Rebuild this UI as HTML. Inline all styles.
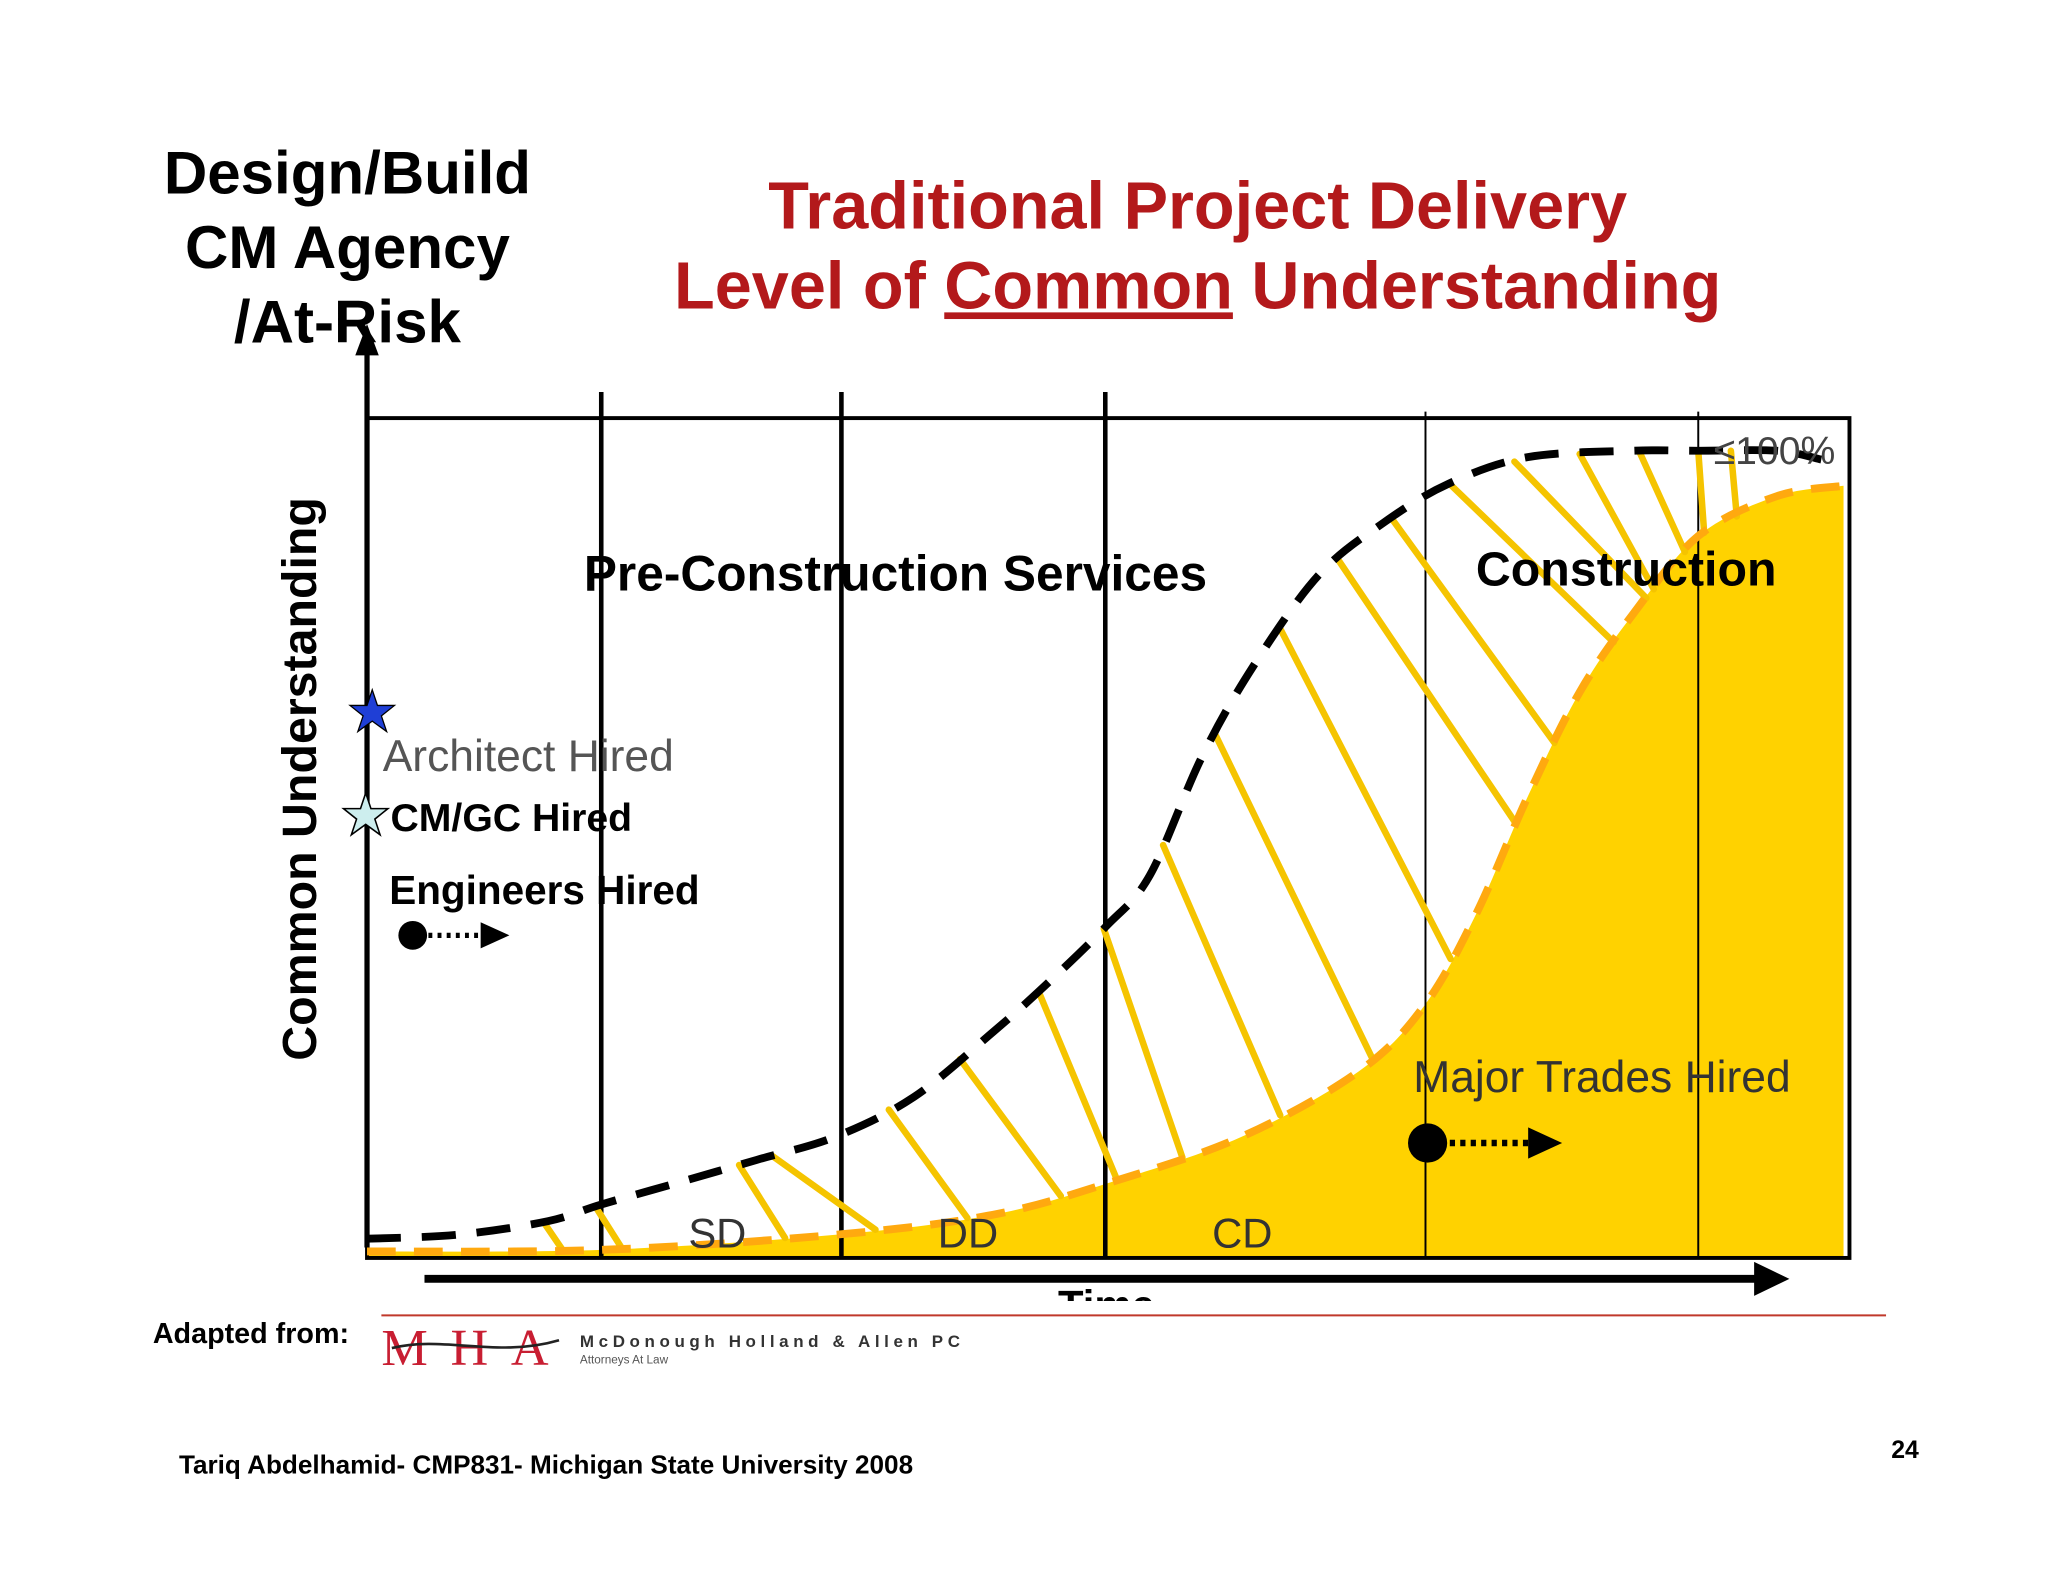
<!DOCTYPE html>
<html><head><meta charset="utf-8"><style>
html,body{margin:0;padding:0;background:#fff;}
svg{display:block;font-family:"Liberation Sans",sans-serif;}
</style></head><body>
<svg id="chart" width="2048" height="1582" viewBox="0 0 1568 1211" xmlns="http://www.w3.org/2000/svg">
<g font-weight="bold" font-size="46" text-anchor="middle" fill="#000">
<text x="266" y="148">Design/Build</text>
<text x="266" y="205">CM Agency</text>
<text x="266" y="262">/At-Risk</text>
</g>
<g font-weight="bold" font-size="51" text-anchor="middle" fill="#b3191b">
<text x="917" y="175">Traditional Project Delivery</text>
<text x="917" y="236">Level of <tspan text-decoration="underline">Common</tspan> Understanding</text>
</g>
<g id="plot"></g>
<text transform="translate(242,812) rotate(-90)" font-size="37" font-weight="bold" fill="#000">Common Understanding</text>
<g font-size="36" fill="#000">
<text x="447" y="452" font-weight="bold" font-size="38">Pre-Construction Services</text>
<text x="1130" y="448" font-weight="bold" font-size="37">Construction</text>
<text x="1312" y="355" font-size="30" fill="#444">≤100%</text>
<text x="527" y="955" font-size="32" fill="#333">SD</text>
<text x="718" y="955" font-size="32" fill="#333">DD</text>
<text x="928" y="955" font-size="32" fill="#333">CD</text>
<text x="1082" y="836" font-size="34" fill="#333">Major Trades Hired</text>
</g>
<g font-size="34">
<text x="293" y="590" fill="#555">Architect Hired</text>
<text x="299" y="636" font-weight="bold" font-size="30">CM/GC Hired</text>
<text x="298" y="692" font-weight="bold" font-size="31">Engineers Hired</text>
</g>
<polygon points="285,528 289,540 302,540 292,548 296,560 285,552 274,560 278,548 268,540 281,540" fill="#1f3fd6" stroke="#000" stroke-width="1"/>
<polygon points="280,607 284,619 297,619 287,627 291,639 280,631 269,639 273,627 263,619 276,619" fill="#cdeeee" stroke="#000" stroke-width="1.2"/>
<g>
<circle cx="316" cy="716" r="11" fill="#000"/>
<line x1="328" y1="716" x2="368" y2="716" stroke="#000" stroke-width="4" stroke-dasharray="3 4"/>
<polygon points="368,706 390,716 368,726" fill="#000"/>
</g>
<g>
<circle cx="1093" cy="875" r="15" fill="#000"/>
<line x1="1110" y1="875" x2="1170" y2="875" stroke="#000" stroke-width="5" stroke-dasharray="4 4"/>
<polygon points="1170,863 1196,875 1170,887" fill="#000"/>
</g>
<line x1="325" y1="979" x2="1345" y2="979" stroke="#000" stroke-width="6"/>
<polygon points="1343,966 1370,979 1343,992" fill="#000"/>
<clipPath id="tc"><rect x="700" y="984" width="300" height="12"/></clipPath>
<text x="810" y="1010" font-size="32" font-weight="bold" clip-path="url(#tc)">Time</text>
<line x1="292" y1="1007" x2="1444" y2="1007" stroke="#c0392b" stroke-width="1.5"/>
<text x="117" y="1028" font-size="22" font-weight="bold">Adapted from:</text>
<text x="292" y="1045" font-family="Liberation Serif" font-size="40" fill="#c81e32" textLength="128">MHA</text>
<path d="M300,1032 C340,1022 380,1040 428,1026" stroke="#222" stroke-width="2" fill="none"/>
<text x="444" y="1031" font-size="13" font-weight="bold" fill="#333" textLength="291">McDonough Holland &amp; Allen PC</text>
<text x="444" y="1044" font-size="9" fill="#555">Attorneys At Law</text>
<text x="137" y="1128" font-size="20" font-weight="bold">Tariq Abdelhamid- CMP831- Michigan State University 2008</text>
<text x="1448" y="1116" font-size="19" font-weight="bold">24</text>
</svg>
<script>
const blackX=[0,6.1,12.2,15.8,21.1,26.3,31.6,36.9,42.2,45.7,49.8,52.8,56.3,59.8,64.2,68.6,73.0,78.3,85.4,89.8,95.1,98.1];
const blackY=[1.1,1.6,3.3,5.4,8.2,11.0,13.9,18.9,27.0,32.8,40.2,46.7,61.5,73.0,84.4,91.0,95.9,99.2,100,100,100,98.9];
const orangeX=[0,15.8,31.6,42.2,50.2,59.0,66.9,71.3,74.8,78.3,81.8,85.4,89.8,95.1,99.6];
const orangeY=[-0.5,-0.3,1.6,4.1,8.2,13.9,22.1,30.3,41.8,56.6,69.7,79.5,89.3,94.3,95.6];
const hatchStart=[11.9,15.4,25.1,27.3,35.2,40.0,45.3,49.7,53.7,57.2,61.6,65.5,69.1,73.0,77.4,81.8,85.8,89.8,92.0];
const hatchEnd=[13.2,17.2,28.2,34.3,40.5,46.8,50.6,55.0,61.6,67.8,73.1,77.5,80.1,84.1,86.3,86.8,88.9,90.2,92.4];
const phaseLines=[15.8,32.0,49.8,71.4,89.8];
const X0=281,X1=1416,Y0=955,Y1=345;
const sx=v=>X0+(X1-X0)*v/100, sy=v=>Y0-(Y0-Y1)*v/100;
const NS='http://www.w3.org/2000/svg';
const plot=document.getElementById('plot');
function mk(t,a){const e=document.createElementNS(NS,t);for(const k in a)e.setAttribute(k,a[k]);plot.appendChild(e);return e;}
function smooth(xs,ys){const p=xs.map((x,i)=>[sx(x),sy(ys[i])]);let d='M'+p[0][0]+','+p[0][1];
for(let i=0;i<p.length-1;i++){const a=p[Math.max(0,i-1)],b=p[i],c=p[i+1],e=p[Math.min(p.length-1,i+2)];
d+=` C${b[0]+(c[0]-a[0])/6},${b[1]+(c[1]-a[1])/6} ${c[0]-(e[0]-b[0])/6},${c[1]-(e[1]-b[1])/6} ${c[0]},${c[1]}`;}return d;}
function interp(xs,ys,x){for(let i=0;i<xs.length-1;i++){if(x<=xs[i+1]){const t=(x-xs[i])/(xs[i+1]-xs[i]);return ys[i]+t*(ys[i+1]-ys[i]);}}return ys[ys.length-1];}
const od=smooth(orangeX,orangeY);
const fill=mk('path',{d:od+` L${sx(orangeX[orangeX.length-1])},963 L${sx(0)},963 Z`,fill:'#ffd200'});


const frame=mk('rect',{x:281,y:320,width:1135,height:643,fill:'none',stroke:'#000','stroke-width':3});


phaseLines.forEach((v,i)=>{const thick=i<3;const l=mk('line',{x1:sx(v),x2:sx(v),y1:thick?300:315,y2:963,stroke:'#000','stroke-width':thick?3.5:1.5});

});
hatchStart.forEach((s,i)=>{const e=hatchEnd[i];const h=mk('line',{x1:sx(s),y1:sy(interp(blackX,blackY,s)),x2:sx(e),y2:sy(interp(orangeX,orangeY,e)),stroke:'#f5c400','stroke-width':5,'stroke-linecap':'round'});

});
const oc=mk('path',{d:od,fill:'none',stroke:'#ffa90f','stroke-width':6,'stroke-dasharray':'22 14'});


const bc=mk('path',{d:smooth(blackX,blackY),fill:'none',stroke:'#000','stroke-width':6,'stroke-dasharray':'26 16'});


const ya=mk('line',{x1:281,y1:955,x2:281,y2:268,stroke:'#000','stroke-width':4});


const yh=mk('polygon',{points:'272,272 281,248 290,272',fill:'#000'});


</script>
</body></html>
